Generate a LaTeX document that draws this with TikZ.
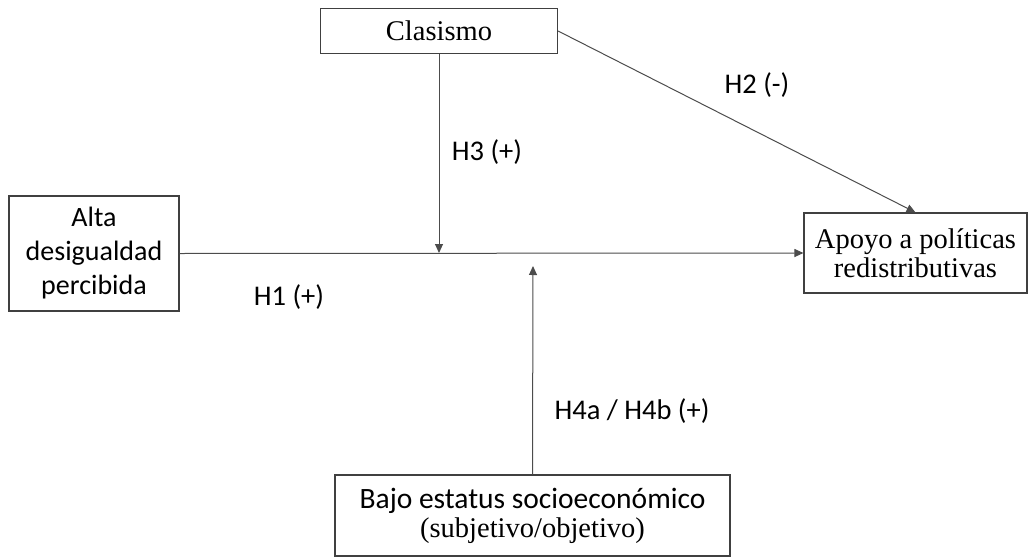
\documentclass[tikz,border=0pt]{standalone}
\usepackage{fontspec}
\setmainfont{Liberation Serif}
\newfontfamily\calib{Carlito}
\usetikzlibrary{arrows.meta}
\begin{document}
\begin{tikzpicture}[x=1pt,y=-1pt,
  boxnode/.style={draw=black!75,line width=1.1pt,inner sep=0pt,align=center,fill=white},
  sertext/.style={font=\fontsize{28.5}{29}\selectfont},
  santext/.style={font=\calib\fontsize{28}{34}\selectfont},
  conn/.style={draw=black!70,line width=1pt,-{Triangle[length=9pt,width=8pt]}},
  lbl/.style={font=\calib\fontsize{28.5}{32}\selectfont,inner sep=0pt}]
\useasboundingbox (0,0) rectangle (1036,557);
\node[boxnode,sertext,minimum width=237,minimum height=45] (clas) at (439,31) {Clasismo};
\node[boxnode,santext,minimum width=170,minimum height=115] (alta) at (94,253.5) {Alta\\desigualdad\\percibida};
\node[boxnode,sertext,minimum width=223,minimum height=80] (apoyo) at (915.5,253) {Apoyo a políticas\\redistributivas};
\node[boxnode,font=\fontsize{28.5}{29}\selectfont,minimum width=395,minimum height=81] (bajo) at (532.5,515.5) {{\calib\fontsize{29.5}{29}\selectfont Bajo estatus socioeconómico}\\{\fontsize{28.5}{29}\selectfont (subjetivo/objetivo)}};
\coordinate (m1) at (439,253);
\coordinate (m2) at (533,266);
\draw[conn] (alta.east) -- (apoyo.west);
\draw[conn] (clas.south) -- (m1);
\draw[conn] (bajo.north) -- (m2);
\draw[conn] (clas.east) -- (apoyo.north);
\node[lbl] (h2) at (757,85) {H2 (-)};
\node[lbl] (h3) at (487,152) {H3 (+)};
\node[lbl] (h1) at (289,297) {H1 (+)};
\node[lbl] (h4) at (632,411) {H4a / H4b (+)};
\end{tikzpicture}
\end{document}
